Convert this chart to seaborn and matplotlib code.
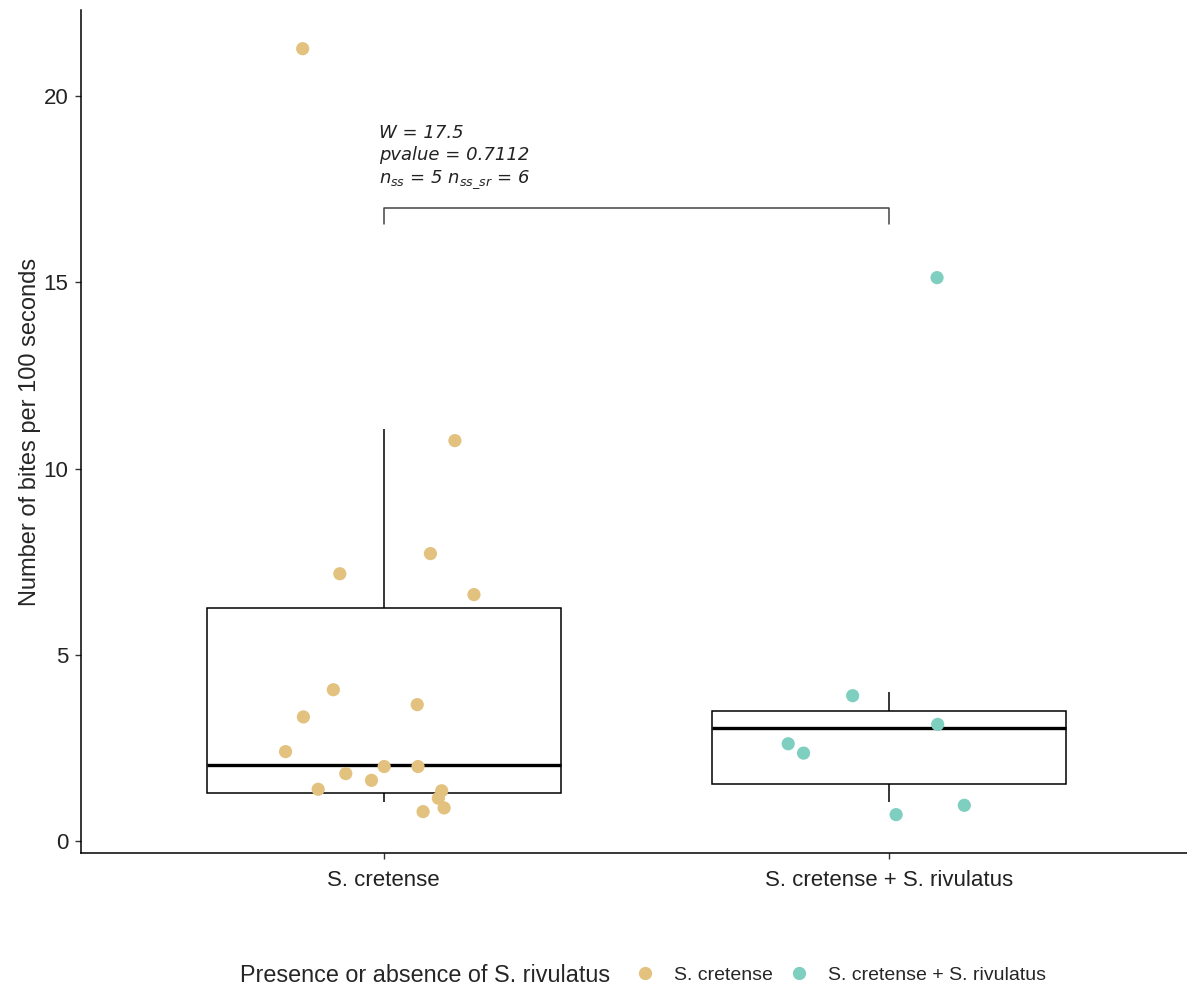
import numpy as np
import pandas as pd
import matplotlib
matplotlib.use("Agg")
import matplotlib.pyplot as plt
from matplotlib.lines import Line2D
import seaborn as sns

groups = ["S. cretense", "S. cretense + S. rivulatus"]

# individual observations (shown as jittered points)
bites_ss = [21.26, 10.75, 7.72, 7.18, 6.62, 4.07, 3.67, 3.34, 2.41,
            2.01, 2.01, 1.82, 1.64, 1.40, 1.36, 1.16, 0.90, 0.80]
bites_ss_sr = [15.12, 3.91, 3.14, 2.62, 2.37, 0.97, 0.72]

# five-number summaries behind the boxes (min, q1, median, q3, max)
box_ss = [1.07, 1.29, 2.04, 6.25, 11.05]
box_ss_sr = [1.07, 1.53, 3.03, 3.49, 4.02]

colors = ["#E2C27E", "#7ECFC0"]

stat_lines = ["W = 17.5", "pvalue = 0.7112", r"$n_{ss}$ = 5 $n_{ss\_sr}$ = 6"]

sns.set_theme(style="white")
plt.rcParams["font.family"] = ["Liberation Sans", "DejaVu Sans"]
plt.rcParams["mathtext.fontset"] = "dejavusans"

pts = pd.DataFrame({
    "group": [groups[0]] * len(bites_ss) + [groups[1]] * len(bites_ss_sr),
    "bites": bites_ss + bites_ss_sr,
})
boxes = pd.DataFrame({
    "group": [groups[0]] * len(box_ss) + [groups[1]] * len(box_ss_sr),
    "bites": box_ss + box_ss_sr,
})

fig = plt.figure(figsize=(11.87, 9.88), dpi=100)
ax = fig.add_axes([0.068, 0.1366, 0.932, 0.853])

sns.boxplot(data=boxes, x="group", y="bites", order=groups, ax=ax,
            color="white", linecolor="black", linewidth=1.1, width=0.7,
            showfliers=False, showcaps=False, saturation=1,
            medianprops={"linewidth": 2.4, "color": "black"})

np.random.seed(69226)
sns.stripplot(data=pts, x="group", y="bites", order=groups, hue="group",
              hue_order=groups, palette=colors, ax=ax, jitter=0.2, size=9.5,
              linewidth=0, legend=False, zorder=3)

# significance bracket and test summary
ax.plot([0, 0, 1, 1], [16.55, 17.0, 17.0, 16.55], color="#444444", lw=1.1)
ax.text(-0.01, 17.45, "\n".join(stat_lines), ha="left", va="bottom",
        fontsize=13, style="italic", family="DejaVu Sans", linespacing=1.3,
        color="#222222")

ax.set_xlim(-0.6, 1.59)
ax.set_ylim(-0.31, 22.29)
ax.set_yticks([0, 5, 10, 15, 20])
ax.set_xlabel("")
ax.set_ylabel("Number of bites per 100 seconds", fontsize=17, labelpad=2)
ax.tick_params(axis="both", labelsize=16, length=4, width=1, color="#333333",
               labelcolor="#222222", left=True, bottom=True)
ax.tick_params(axis="x", pad=8)
ax.tick_params(axis="y", pad=5)
sns.despine(ax=ax)
for s in ("left", "bottom"):
    ax.spines[s].set_color("black")
    ax.spines[s].set_linewidth(1.1)

# legend along the bottom, title to the left of the keys
fig.text(240 / 1187, 1 - 975 / 988, "Presence or absence of S. rivulatus",
         ha="left", va="center", fontsize=16.8)
handles = [Line2D([], [], marker="o", ls="", color=c, markersize=8.5)
           for c in colors]
fig.legend(handles, groups, loc="center left",
           bbox_to_anchor=(618 / 1187, 1 - 975 / 988), ncol=2, frameon=False,
           fontsize=14, handlelength=1.0, handletextpad=1.0, columnspacing=0.8)

fig.savefig("out.png", dpi=100)
